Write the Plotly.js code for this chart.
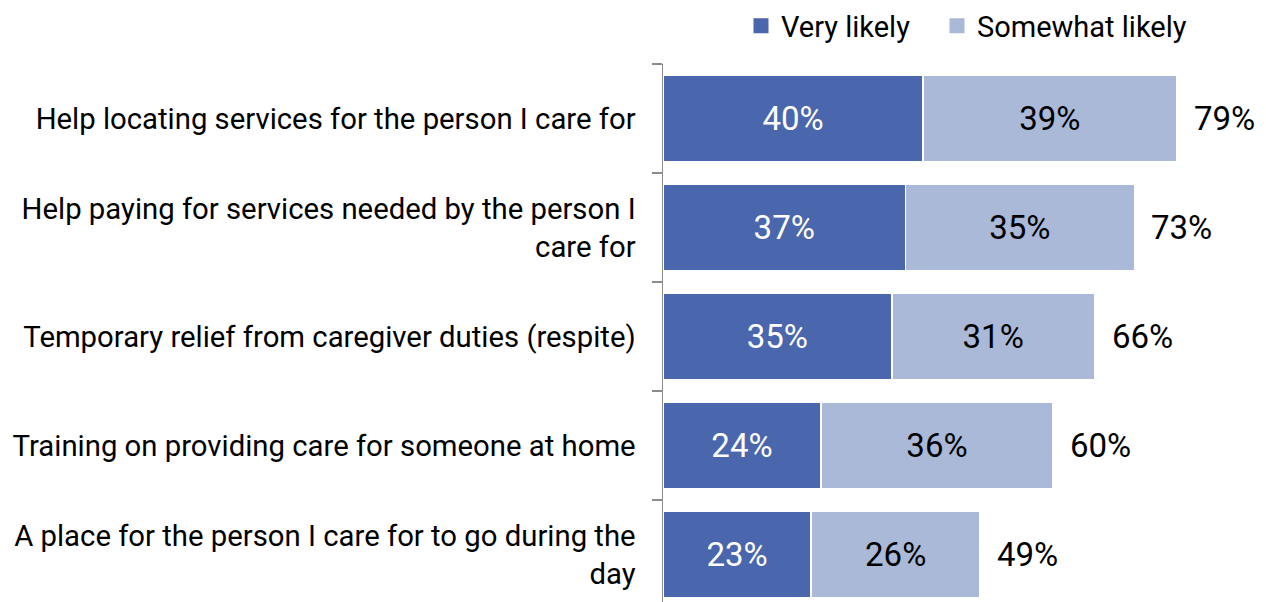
<!DOCTYPE html>
<html>
<head>
<meta charset="utf-8">
<script src="https://cdn.plot.ly/plotly-3.0.1.min.js"></script>
<style>html,body{margin:0;padding:0;background:#fff;}#chart{width:1266px;height:602px;}</style>
</head>
<body>
<div id="chart"></div>
<script>
const categories = [
  "Help locating services for the person I care for",
  "Help paying for services needed by the person I<br>care for",
  "Temporary relief from caregiver duties (respite)",
  "Training on providing care for someone at home",
  "A place for the person I care for to go during the<br>day"
];
const veryLikely = [40, 37.3, 35.2, 24.3, 22.8];
const somewhatLikely = [39, 35.2, 31.2, 35.7, 26.0];
const totalLabels = ["79%", "73%", "66%", "60%", "49%"];
const seriesNames = ["Very likely", "Somewhat likely"];
const seriesColors = ["#4A66AC", "#AAB9D8"];

const FONT = "Roboto, 'Noto Sans', sans-serif";

const traces = [
  {
    type: "bar", orientation: "h", name: seriesNames[0], showlegend: false,
    y: categories, x: veryLikely,
    marker: {color: seriesColors[0], line: {color: "#ffffff", width: 1.5}},
    texttemplate: "%{x:.0f}%", textposition: "inside", insidetextanchor: "middle",
    constraintext: "none",
    insidetextfont: {color: "#ffffff", size: 33, family: FONT},
    hoverinfo: "none"
  },
  {
    type: "bar", orientation: "h", name: seriesNames[1], showlegend: false,
    y: categories, x: somewhatLikely,
    marker: {color: seriesColors[1], line: {color: "#ffffff", width: 1.5}},
    texttemplate: "%{x:.0f}%", textposition: "inside", insidetextanchor: "middle",
    constraintext: "none",
    insidetextfont: {color: "#000000", size: 33, family: FONT},
    hoverinfo: "none"
  },
  // legend-only entries (no data drawn) for larger square swatches
  {type: "scatter", mode: "markers", name: seriesNames[0], x: [null], y: [null], legend: "legend",
   marker: {symbol: "square", size: 15, color: seriesColors[0]}, hoverinfo: "none"},
  {type: "scatter", mode: "markers", name: seriesNames[1], x: [null], y: [null], legend: "legend2",
   marker: {symbol: "square", size: 15, color: seriesColors[1]}, hoverinfo: "none"}
];

const annotations = categories.map((c, i) => ({
  x: veryLikely[i] + somewhatLikely[i], y: c, xref: "x", yref: "y",
  text: totalLabels[i], showarrow: false, xanchor: "left", xshift: 15,
  font: {size: 33, color: "#000000", family: FONT}
}));

const legendBase = {
  orientation: "h", xref: "container", yref: "container",
  xanchor: "left", y: 1 - 26/602, yanchor: "middle",
  font: {size: 29, color: "#000000", family: FONT},
  itemsizing: "trace", bgcolor: "rgba(0,0,0,0)"
};

const layout = {
  width: 1266, height: 602,
  paper_bgcolor: "#ffffff", plot_bgcolor: "#ffffff",
  margin: {l: 663, r: 0, t: 64, b: 0, pad: 0},
  barmode: "stack", bargap: 0.21,
  font: {family: FONT, size: 29, color: "#000000"},
  xaxis: {range: [0, 92.77], visible: false, showgrid: false, zeroline: false, fixedrange: true},
  yaxis: {
    type: "category", range: [4.436, -0.5],
    showline: true, linecolor: "#8c8c8c", linewidth: 1.5,
    ticks: "outside", tickson: "boundaries", ticklen: 10, tickcolor: "#8c8c8c", tickwidth: 1.5,
    ticklabelstandoff: 20,
    tickfont: {size: 29.3, color: "#000000", family: FONT},
    showgrid: false, zeroline: false
  },
  showlegend: true,
  legend: Object.assign({}, legendBase, {x: 741/1266}),
  legend2: Object.assign({}, legendBase, {x: 937/1266}),
  annotations: annotations
};

Plotly.newPlot("chart", traces, layout, {staticPlot: true, displayModeBar: false});
</script>
</body>
</html>
